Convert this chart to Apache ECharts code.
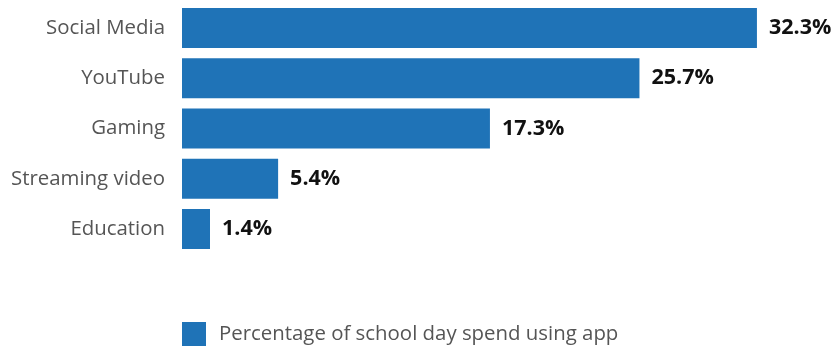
<!DOCTYPE html>
<html><head><meta charset="utf-8">
<script src="https://cdn.jsdelivr.net/npm/echarts@6/dist/echarts.min.js"></script>
<style>html,body{margin:0;padding:0;background:#fff}#c{width:836px;height:349px}</style>
</head><body><div id="c"></div>
<script>
const categories = ["Social Media", "YouTube", "Gaming", "Streaming video", "Education"];
const values = [32.3, 25.7, 17.3, 5.4, 1.4];
const seriesName = "Percentage of school day spend using app";

const chart = echarts.init(document.getElementById('c'), null, {renderer: 'canvas'});
const font = '"Open Sans", Lato, sans-serif';
chart.setOption({
  animation: false,
  textStyle: {fontFamily: font},
  grid: {left: 182, top: 3, height: 251, right: 31, containLabel: false},
  xAxis: {type: 'value', min: 0, max: 35, show: false},
  yAxis: {
    type: 'category', data: categories, inverse: true,
    axisLine: {show: false}, axisTick: {show: false},
    axisLabel: {color: '#555', fontSize: 20.4, margin: 17, fontFamily: font}
  },
  legend: {
    data: [seriesName], left: 177, top: 317, itemWidth: 24, itemHeight: 24, itemGap: 13,
    icon: 'rect',
    textStyle: {color: '#555', fontSize: 20.4, fontFamily: font, padding: [0,0,0,8]}
  },
  series: [{
    name: seriesName, type: 'bar', data: values, barWidth: 40, barMinHeight: 28,
    itemStyle: {color: '#1f73b7'},
    label: {show: true, position: 'right', distance: 12, formatter: p => p.value.toFixed(1) + '%',
      color: '#111', fontSize: 21.5, fontWeight: 'bold', fontFamily: font}
  }]
});
</script></body></html>
